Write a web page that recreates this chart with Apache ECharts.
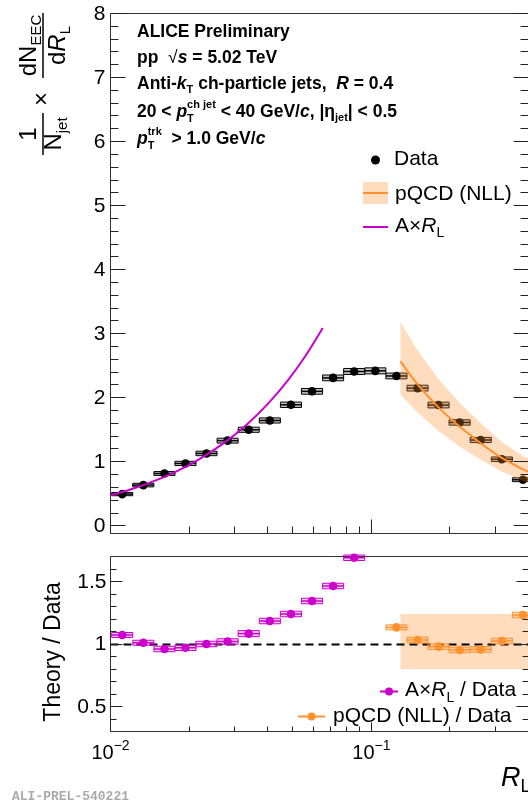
<!DOCTYPE html>
<html><head><meta charset="utf-8">
<script src="https://cdn.jsdelivr.net/npm/echarts@6/dist/echarts.min.js"></script>
<style>html,body{margin:0;padding:0;background:#fff}#c{width:528px;height:804px}</style>
</head><body><div id="c"></div>
<script>
// ---------------- data ----------------
const binCentersRL = [0.01109,0.01336,0.01610,0.01938,0.02333,0.02811,0.03386,0.04080,0.04917,0.05920,
                      0.07131,0.08590,0.1035,0.1247,0.1502,0.1808,0.2178,0.2624,0.3162,0.3808];
const dataEEC = [0.495,0.636,0.817,0.974,1.13,1.33,1.50,1.645,1.89,2.10,
                 2.31,2.41,2.42,2.34,2.15,1.886,1.614,1.34,1.04,0.72];
const dataSys = [0.025,0.028,0.030,0.033,0.035,0.038,0.040,0.040,0.042,0.045,
                 0.045,0.047,0.047,0.045,0.045,0.045,0.042,0.040,0.035,0.030];
const linearRL  = [0.0100,0.0120,0.0150,0.0180,0.0220,0.0270,0.0330,0.0400,0.0480,0.0560,0.0651];
const linearEEC = [0.475,0.570,0.713,0.855,1.045,1.283,1.568,1.900,2.280,2.660,3.090];
const pqcdRL   = [0.1292,0.1502,0.1808,0.2178,0.2624,0.3162,0.3808,0.4000];
const pqcdEEC  = [2.567,2.210,1.850,1.550,1.290,1.060,0.880,0.845];
const pqcdHigh = [3.180,2.740,2.290,1.920,1.600,1.310,1.090,1.050];
const pqcdLow  = [2.050,1.770,1.480,1.240,1.030,0.850,0.700,0.680];
const ratioLinearRL  = binCentersRL.slice(0,12);
const ratioLinear    = [1.072,1.010,0.960,0.970,1.000,1.020,1.083,1.184,1.240,1.344,1.464,1.690];
const ratioLinearSys = [0.020,0.020,0.022,0.022,0.022,0.022,0.024,0.022,0.022,0.022,0.022,0.022];
const ratioPqcdRL    = binCentersRL.slice(13);
const ratioPqcd      = [1.133,1.032,0.979,0.952,0.957,1.024,1.232];
const ratioPqcdSys   = [0.020,0.022,0.022,0.022,0.022,0.022,0.022];
const ratioBandRL   = [0.1292,0.4000];
const ratioBandLow  = [0.80,0.80];
const ratioBandHigh = [1.24,1.24];
const yTickLabelsUpper = ['0','1','2','3','4','5','6','7','8'];
const yTickLabelsLower = ['0.5','1','1.5'];
const xDecadeLabels = [['10','\u22122'],['10','\u22121']];
const xDecades = [0.01,0.1];
const xMinorTicks = [0.02,0.03,0.04,0.05,0.06,0.07,0.08,0.09,0.2,0.3,0.4];

// ---------------- style / layout ----------------
const FF = "'Liberation Sans', Helvetica, Arial, sans-serif";
const MAG = '#CC00CC', ORA = '#FF922E', BAND = 'rgba(255,140,40,0.30)', TICK = '#222', FRAME = '#333';
const X_MIN = 0.01, X_MAX = 0.4, YU_MIN = -0.12, YU_MAX = 8, YL_MIN = 0.3, YL_MAX = 1.7;
const HALF_BIN = Math.pow(10, 0.0404);

const mctx = document.createElement('canvas').getContext('2d');
function fnt(p){ return (p.it?'italic ':'')+(p.b?'bold ':'')+p.s+'px '+(p.ff||FF); }
function tx(x, y, text, font, fill, align, valign){
  return {type:'text', x:x, y:y, silent:true, style:{text:text, font:font, fill:fill||'#000',
    align:align||'left', textAlign:align||'left', verticalAlign:valign||'middle', textVerticalAlign:valign||'middle'}};
}
function runsWidth(parts, def){
  let w=0, sw=0;
  parts.forEach(p0=>{ const p=Object.assign({},def,p0); mctx.font=fnt(p); const ww=mctx.measureText(p.t).width;
    if(p.stack){sw=Math.max(sw,ww);} else {w+=Math.max(ww,sw); sw=0;} });
  return w;
}
function runs(x0, base, parts, def, fill){
  let x=x0, sw=0; const els=[];
  parts.forEach(p0=>{ const p=Object.assign({},def,p0); const f=fnt(p); mctx.font=f; const ww=mctx.measureText(p.t).width;
    els.push(tx(x, base+(p.dy||0)-0.33*p.s, p.t, f, p.c||fill||'#000'));
    if(p.stack){sw=Math.max(sw,ww);} else {x+=Math.max(ww,sw); sw=0;} });
  return els;
}
const cr = v => Math.round(v-0.5)+0.5;

function decoUpper(params, api){
  const ch=[];
  const ln=(x1,y1,x2,y2,w)=>ch.push({type:'line', silent:true, shape:{x1,y1,x2,y2}, style:{stroke:TICK, lineWidth:w||1}});
  for(let k=0;k<=40;k++){
    const v=k*0.2, major=(k%5===0);
    const L=api.coord([X_MIN,v]), R=api.coord([X_MAX,v]); const y=cr(L[1]); const len=major?15:8;
    ln(L[0],y,L[0]+len,y); ln(R[0],y,R[0]-len,y);
    if(major) ch.push(tx(L[0]-5, L[1]+0.5, yTickLabelsUpper[k/5], '21px '+FF, '#000','right','middle'));
  }
  xMinorTicks.forEach(v=>{ const B=api.coord([v,YU_MIN]); const x=cr(B[0]); ln(x,B[1],x,B[1]-7); });
  xDecades.forEach(v=>{ const B=api.coord([v,YU_MIN]); const x=cr(B[0]); ln(x,B[1],x,B[1]-14); });
  return {type:'group', children:ch};
}
function decoLower(params, api){
  const ch=[];
  const ln=(x1,y1,x2,y2,w)=>ch.push({type:'line', silent:true, shape:{x1,y1,x2,y2}, style:{stroke:TICK, lineWidth:w||1}});
  for(let k=4;k<=16;k++){
    const v=k/10, major=(k%5===0);
    const L=api.coord([X_MIN,v]), R=api.coord([X_MAX,v]); const y=cr(L[1]); const len=major?12:6;
    ln(L[0],y,L[0]+len,y); ln(R[0],y,R[0]-len,y);
    if(major) ch.push(tx(L[0]-4, L[1]+0.5, yTickLabelsLower[k/5-1], '21px '+FF, '#000','right','middle'));
  }
  xMinorTicks.forEach(v=>{ const B=api.coord([v,YL_MIN]); const x=cr(B[0]); ln(x,B[1],x,B[1]-5); });
  xDecades.forEach((v,i)=>{ const B=api.coord([v,YL_MIN]); const x=cr(B[0]); ln(x,B[1],x,B[1]-9);
    const parts=[{t:xDecadeLabels[i][0]},{t:xDecadeLabels[i][1],s:14,dy:-9}];
    const w=runsWidth(parts,{s:20}); runs(B[0]-w/2, B[1]+28.5, parts, {s:20}).forEach(e=>ch.push(e)); });
  return {type:'group', children:ch};
}
function unityLine(params, api){
  const a=api.coord([X_MIN,1]), b=api.coord([X_MAX,1]);
  return {type:'line', silent:true, shape:{x1:a[0],y1:cr(a[1]),x2:b[0],y2:cr(b[1])}, style:{stroke:'#000', lineWidth:2, lineDash:[8,5]}};
}
function bandRenderer(xs, lo, hi, fill){
  return function(params, api){
    const pts=[]; xs.forEach((x,i)=>pts.push(api.coord([x,hi[i]])));
    for(let i=xs.length-1;i>=0;i--) pts.push(api.coord([xs[i],lo[i]]));
    return {type:'polygon', silent:true, shape:{points:pts}, style:{fill:fill}};
  };
}
function boxRenderer(color, fill){
  return function(params, api){
    const x=api.value(0), y=api.value(1), s=api.value(2);
    const pL=api.coord([x/HALF_BIN,y]), pR=api.coord([x*HALF_BIN,y]);
    const pT=api.coord([x,y+s]), pB=api.coord([x,y-s]), c=api.coord([x,y]);
    return {type:'group', children:[
      {type:'rect', shape:{x:pL[0], y:pT[1], width:pR[0]-pL[0], height:pB[1]-pT[1]}, style:{fill:fill, stroke:color, lineWidth:1}},
      {type:'line', shape:{x1:pL[0], y1:c[1], x2:pR[0], y2:c[1]}, style:{stroke:color, lineWidth:1.5}},
      {type:'circle', shape:{cx:c[0], cy:c[1], r:4.3}, style:{fill:color}}
    ]};
  };
}

const chart = echarts.init(document.getElementById('c'), null, {renderer:'canvas', width:528, height:804});
const axisOff = {axisLine:{show:false}, axisTick:{show:false}, axisLabel:{show:false}, splitLine:{show:false}, minorTick:{show:false}};
const option = {
  animation:false, backgroundColor:'#fff',
  grid:[
    {left:110.5, top:13.5, width:418, height:520, show:true, borderColor:FRAME, borderWidth:1, backgroundColor:'transparent', containLabel:false, outerBoundsMode:'none'},
    {left:110.5, top:556.5, width:418, height:175, show:true, borderColor:FRAME, borderWidth:1, backgroundColor:'transparent', containLabel:false, outerBoundsMode:'none'}
  ],
  xAxis:[
    Object.assign({type:'log', logBase:10, gridIndex:0, min:X_MIN, max:X_MAX}, axisOff),
    Object.assign({type:'log', logBase:10, gridIndex:1, min:X_MIN, max:X_MAX}, axisOff)
  ],
  yAxis:[
    Object.assign({type:'value', gridIndex:0, min:YU_MIN, max:YU_MAX}, axisOff),
    Object.assign({type:'value', gridIndex:1, min:YL_MIN, max:YL_MAX}, axisOff)
  ],
  series:[
    {type:'custom', xAxisIndex:0, yAxisIndex:0, clip:false, silent:true, data:[[0.1,1]], renderItem:decoUpper, z:10},
    {type:'custom', xAxisIndex:1, yAxisIndex:1, clip:false, silent:true, data:[[0.1,1]], renderItem:decoLower, z:10},
    {type:'custom', name:'Data', xAxisIndex:0, yAxisIndex:0, clip:false,
      data:binCentersRL.map((x,i)=>[x,dataEEC[i],dataSys[i]]), renderItem:boxRenderer('#000','rgba(90,90,90,0.35)'), z:3},
    {type:'line', name:'A×RL', xAxisIndex:0, yAxisIndex:0, data:linearRL.map((x,i)=>[x,linearEEC[i]]),
      smooth:0.3, symbol:'none', showSymbol:false, lineStyle:{color:MAG, width:2}, z:4},
    {type:'custom', name:'pQCD band', xAxisIndex:0, yAxisIndex:0, clip:true, data:[[0.2,1]],
      renderItem:bandRenderer(pqcdRL,pqcdLow,pqcdHigh,BAND), z:5},
    {type:'line', name:'pQCD (NLL)', xAxisIndex:0, yAxisIndex:0, data:pqcdRL.map((x,i)=>[x,pqcdEEC[i]]),
      smooth:0.3, symbol:'none', showSymbol:false, lineStyle:{color:ORA, width:2}, z:6},
    {type:'custom', name:'ratio band', xAxisIndex:1, yAxisIndex:1, clip:true, data:[[0.2,1]],
      renderItem:bandRenderer(ratioBandRL,ratioBandLow,ratioBandHigh,BAND), z:2},
    {type:'custom', name:'unity', xAxisIndex:1, yAxisIndex:1, clip:false, data:[[0.1,1]], renderItem:unityLine, z:3},
    {type:'custom', name:'A×RL / Data', xAxisIndex:1, yAxisIndex:1, clip:false,
      data:ratioLinearRL.map((x,i)=>[x,ratioLinear[i],ratioLinearSys[i]]), renderItem:boxRenderer(MAG,'rgba(204,0,204,0.18)'), z:4},
    {type:'custom', name:'pQCD (NLL) / Data', xAxisIndex:1, yAxisIndex:1, clip:false,
      data:ratioPqcdRL.map((x,i)=>[x,ratioPqcd[i],ratioPqcdSys[i]]), renderItem:boxRenderer(ORA,'rgba(255,146,46,0.2)'), z:4}
  ]
};
chart.setOption(option);

// ---------------- texts, titles, legends ----------------
const G = [];
const push = a => a.forEach(e=>G.push(e));
const TB = {s:17.5, b:true};
push(runs(137, 37.5, [{t:'ALICE Preliminary'}], TB));
push(runs(137, 64, [{t:'pp  '},{t:'\u221A',b:false},{t:'s',it:true},{t:' = 5.02 TeV'}], TB));
push(runs(137, 90, [{t:'Anti-'},{t:'k',it:true},{t:'T',s:11,dy:4},{t:' ch-particle jets,  '},{t:'R',it:true},{t:' = 0.4'}], TB));
push(runs(137, 117.5, [{t:'20 < '},{t:'p',it:true},{t:'ch jet',s:11,dy:-9,stack:true},{t:'T',s:11,dy:5},{t:' < 40 GeV/'},{t:'c',it:true},
  {t:', |\u03B7'},{t:'jet',s:11,dy:4},{t:'| < 0.5'}], TB));
push(runs(137, 144.5, [{t:'p',it:true},{t:'trk',s:11,dy:-9,stack:true},{t:'T',s:11,dy:5},{t:'  > 1.0 GeV/'},{t:'c',it:true}], TB));

// upper legend
const LG = {s:21};
G.push({type:'circle', shape:{cx:375.5, cy:160, r:4.5}, style:{fill:'#000'}});
push(runs(394, 166.5, [{t:'Data'}], LG));
G.push({type:'rect', shape:{x:363, y:182, width:25, height:22}, style:{fill:BAND}});
G.push({type:'line', shape:{x1:363,y1:193,x2:388,y2:193}, style:{stroke:ORA, lineWidth:2}});
push(runs(395, 201, [{t:'pQCD (NLL)'}], LG));
G.push({type:'line', shape:{x1:363,y1:227,x2:388,y2:227}, style:{stroke:MAG, lineWidth:2}});
push(runs(395, 233, [{t:'A\u00D7'},{t:'R',it:true},{t:'L',s:14,dy:5}], LG));

// lower legend
G.push({type:'line', shape:{x1:380,y1:691.5,x2:398,y2:691.5}, style:{stroke:MAG, lineWidth:2}});
G.push({type:'circle', shape:{cx:389, cy:691.5, r:4}, style:{fill:MAG}});
push(runs(405, 697, [{t:'A\u00D7'},{t:'R',it:true},{t:'L',s:14,dy:6},{t:' / Data'}], LG));
G.push({type:'line', shape:{x1:298,y1:716.5,x2:325,y2:716.5}, style:{stroke:ORA, lineWidth:2}});
G.push({type:'circle', shape:{cx:311.5, cy:716.5, r:4}, style:{fill:ORA}});
push(runs(333, 723.5, [{t:'pQCD (NLL) / Data'}], LG));

// upper y title (rotated group, local x runs upward)
const YT = {s:24};
const yt = [];
(function(){
  const a=[{t:'1'}]; const wa=runsWidth(a,YT); runs(24-wa/2, 37, a, YT).forEach(e=>yt.push(e));
  const b=[{t:'N'},{t:'jet',s:15,dy:6}]; const wb=runsWidth(b,YT); runs(24-wb/2, 62, b, YT).forEach(e=>yt.push(e));
  yt.push({type:'line', shape:{x1:3,y1:43,x2:45,y2:43}, style:{stroke:'#000', lineWidth:1.5}});
  runs(52, 50, [{t:'\u00D7'}], YT).forEach(e=>yt.push(e));
  const c=[{t:'dN'},{t:'EEC',s:15,dy:5}]; const wc=runsWidth(c,YT); runs(112.5-wc/2, 37, c, YT).forEach(e=>yt.push(e));
  const d=[{t:'d'},{t:'R',it:true},{t:'L',s:15,dy:5}]; const wd=runsWidth(d,YT); runs(112.5-wd/2, 66, d, YT).forEach(e=>yt.push(e));
  yt.push({type:'line', shape:{x1:80,y1:43,x2:145,y2:43}, style:{stroke:'#000', lineWidth:1.5}});
})();
G.push({type:'group', x:0, y:158, rotation:Math.PI/2, children:yt});

// lower y title
G.push({type:'group', x:54, y:652, rotation:Math.PI/2, children:[tx(0,0,'Theory / Data','23px '+FF,'#000','center','middle')]});

// x title
push(runs(501, 787, [{t:'R',it:true,s:27},{t:'L',s:18,dy:6}], {s:27}));

// watermark
G.push(tx(12, 797, 'ALI-PREL-540221', "bold 13px 'Liberation Mono', 'DejaVu Sans Mono', monospace", '#aaaaaa','left','middle'));

chart.setOption({graphic:{elements:G}});
</script>
</body></html>
